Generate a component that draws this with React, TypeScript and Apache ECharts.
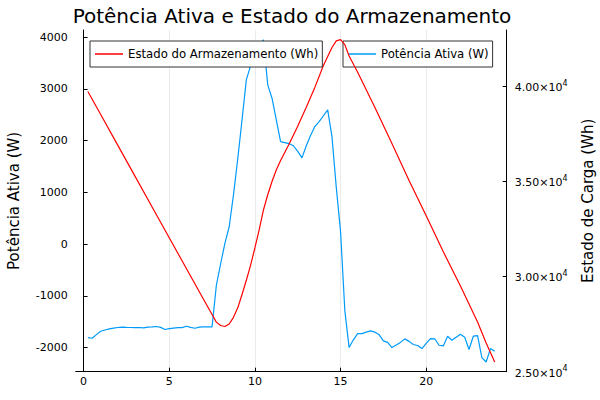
import React, { useEffect, useRef } from "react";
import * as echarts from "echarts";

const HOURS = [
  0.25, 0.5, 0.75, 1, 1.25, 1.5, 1.75, 2, 2.25, 2.5, 2.75, 3, 3.25, 3.5, 3.75, 4,
  4.25, 4.5, 4.75, 5, 5.25, 5.5, 5.75, 6, 6.25, 6.5, 6.75, 7, 7.25, 7.5, 7.75, 8,
  8.25, 8.5, 8.75, 9, 9.25, 9.5, 9.75, 10, 10.25, 10.5, 10.75, 11, 11.25, 11.5, 11.75, 12,
  12.25, 12.5, 12.75, 13, 13.25, 13.5, 13.75, 14, 14.25, 14.5, 14.75, 15, 15.25, 15.5, 15.75, 16,
  16.25, 16.5, 16.75, 17, 17.25, 17.5, 17.75, 18, 18.25, 18.5, 18.75, 19, 19.25, 19.5, 19.75, 20,
  20.25, 20.5, 20.75, 21, 21.25, 21.5, 21.75, 22, 22.25, 22.5, 22.75, 23, 23.25, 23.5, 23.75, 24,
];

const POTENCIA = [
  -1806, -1819, -1750, -1684, -1660, -1640, -1625, -1612, -1606, -1610, -1612, -1615, -1612, -1620, -1605, -1600,
  -1593, -1610, -1651, -1635, -1625, -1615, -1613, -1587, -1610, -1626, -1605, -1600, -1598, -1600, -800, -380,
  13, 335, 950, 1650, 2400, 3174, 3450, 3650, 3800, 3948, 3077, 2819, 2400, 1980, 1960, 1940,
  1900, 1790, 1665, 1900, 2100, 2271, 2367, 2480, 2594, 2077, 1100, 250, -1280, -2000, -1850, -1729,
  -1729, -1700, -1677, -1700, -1750, -1871, -1900, -2000, -1950, -1900, -1832, -1880, -1940, -1960, -2019, -1920,
  -1825, -1830, -1955, -1968, -1780, -1858, -1800, -1742, -1800, -2038, -1780, -1768, -2193, -2278, -2019, -2071,
];

const SOC_HOURS = [
  0.25, 1, 2, 3, 4, 5, 6, 7, 7.5, 7.75, 8, 8.25, 8.5, 8.75, 9, 9.25, 9.5, 9.75, 10, 10.25,
  10.5, 10.75, 11, 11.25, 11.5, 12, 12.5, 13, 13.5, 14, 14.5, 14.75, 15, 15.25, 15.5, 16,
  17, 18, 19, 20, 21, 22, 23, 23.5, 24,
];
const SOC = [
  39737, 38520, 36900, 35280, 33660, 32040, 30420, 28800, 28000, 27600, 27420, 27370, 27500, 27850, 28350, 29050, 29800, 30600, 31500, 32450,
  33500, 34300, 35000, 35600, 36100, 36970, 37900, 38900, 39950, 41100, 42050, 42400, 42460, 42200, 41600, 40750,
  38900, 37000, 35050, 33200, 31300, 29500, 27600, 26500, 25500,
];

const X_TICKS = [0, 5, 10, 15, 20];
const LEFT_TICKS = [-2000, -1000, 0, 1000, 2000, 3000, 4000];
const RIGHT_TICKS = [25000, 30000, 35000, 40000];

const FONT = "DejaVu Sans";

function sci(v: number): string {
  const m = (v / 10000).toFixed(2);
  return "{b|" + m + "×10}{s|4}";
}

export default function App() {
  const ref = useRef<HTMLDivElement>(null);
  useEffect(() => {
    if (!ref.current) return;
    document.body.style.margin = "0";
    const chart = echarts.init(ref.current, undefined, { renderer: "svg" });
    const blueData = HOURS.map((h, i) => [h, POTENCIA[i]]);
    const redData = SOC_HOURS.map((h, i) => [h, SOC[i]]);
    const legendBase = {
      top: 41,
      padding: [7, 4, 7, 5],
      itemWidth: 28,
      itemHeight: 1.5,
      icon: "rect",
      backgroundColor: "#ffffff",
      borderColor: "#333333",
      borderWidth: 1,
      borderRadius: 0,
      textStyle: { fontFamily: FONT, fontSize: 11.7, color: "#000" },
    };
    chart.setOption({
      animation: false,
      backgroundColor: "#ffffff",
      textStyle: { fontFamily: FONT },
      title: {
        text: "Potência Ativa e Estado do Armazenamento",
        left: 287,
        top: 1,
        textAlign: "center",
        textStyle: { fontFamily: FONT, fontSize: 20, fontWeight: "normal", color: "#000" },
      },
      grid: {
        left: 75.7,
        right: 93.3,
        top: 30,
        bottom: 28.3,
        containLabel: false,
        outerBoundsMode: "none",
      },
      legend: [
        { ...legendBase, data: ["Estado do Armazenamento (Wh)"], left: 90, z: 6 },
        { ...legendBase, data: ["Potência Ativa (W)"], left: 343, z: 3 },
      ],
      xAxis: {
        type: "value",
        min: -0.46,
        max: 24.7,
        axisLine: { show: true, onZero: false, lineStyle: { color: "#000", width: 1 } },
        axisTick: { show: true, inside: true, length: 4, customValues: X_TICKS, lineStyle: { color: "#000" } },
        axisLabel: {
          customValues: X_TICKS,
          fontFamily: FONT,
          fontSize: 11,
          color: "#000",
          margin: 4,
          formatter: (v: number) => String(v),
        },
        splitLine: { show: true, lineStyle: { color: "#ebebeb", width: 1 } },
      },
      yAxis: [
        {
          type: "value",
          position: "left",
          min: -2466,
          max: 4137,
          name: "Potência Ativa (W)",
          nameLocation: "middle",
          nameGap: 54,
          nameTextStyle: { fontFamily: FONT, fontSize: 15, color: "#000" },
          axisLine: { show: true, lineStyle: { color: "#000", width: 1 } },
          axisTick: { show: true, inside: true, length: 4, customValues: LEFT_TICKS, lineStyle: { color: "#000" } },
          axisLabel: {
            customValues: LEFT_TICKS,
            fontFamily: FONT,
            fontSize: 11,
            color: "#000",
            margin: 8,
            formatter: (v: number) => String(v),
          },
          splitLine: { show: false },
        },
        {
          type: "value",
          position: "right",
          min: 24990,
          max: 42970,
          name: "Estado de Carga (Wh)",
          nameLocation: "middle",
          nameGap: 74,
          nameRotate: 90,
          nameTextStyle: { fontFamily: FONT, fontSize: 15, color: "#000" },
          axisLine: { show: true, lineStyle: { color: "#000", width: 1 } },
          axisTick: { show: true, inside: true, length: 4, customValues: RIGHT_TICKS, lineStyle: { color: "#000" } },
          axisLabel: {
            customValues: RIGHT_TICKS,
            fontFamily: FONT,
            fontSize: 11,
            color: "#000",
            margin: 8,
            formatter: (v: number) => sci(v),
            rich: {
              b: { fontFamily: FONT, fontSize: 11, color: "#000", lineHeight: 14, verticalAlign: "bottom" },
              s: { fontFamily: FONT, fontSize: 8, color: "#000", lineHeight: 14, verticalAlign: "top", padding: [0, 0, 6, 0] },
            },
          },
          splitLine: { show: false },
        },
      ],
      series: [
        {
          name: "Potência Ativa (W)",
          type: "line",
          yAxisIndex: 0,
          data: blueData,
          showSymbol: false,
          symbol: "none",
          z: 2,
          lineStyle: { color: "#009AFA", width: 1.2 },
          itemStyle: { color: "#009AFA" },
        },
        {
          name: "Estado do Armazenamento (Wh)",
          type: "line",
          yAxisIndex: 1,
          data: redData,
          showSymbol: false,
          symbol: "none",
          z: 5,
          lineStyle: { color: "#FF0000", width: 1.2 },
          itemStyle: { color: "#FF0000" },
        },
      ],
    });
    return () => chart.dispose();
  }, []);
  return <div ref={ref} style={{ width: 600, height: 400 }} />;
}
